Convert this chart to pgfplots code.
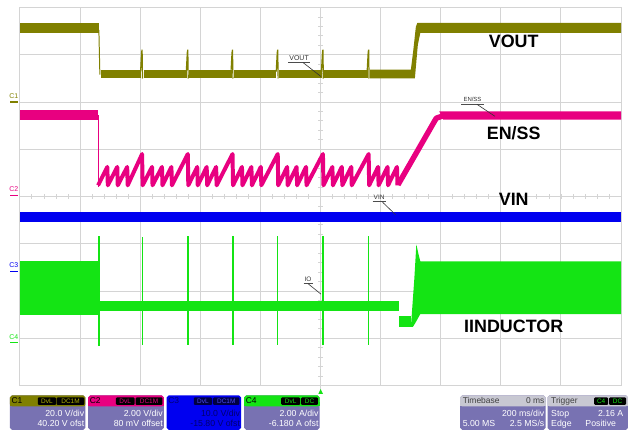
\documentclass[border=0pt]{standalone}
\usepackage{fontspec}
\setmainfont{Liberation Sans}
\usepackage{pgfplots}
\pgfplotsset{compat=1.18}
\definecolor{cvout}{RGB}{128,128,0}
\definecolor{cen}{RGB}{232,0,128}
\definecolor{cvin}{RGB}{0,0,240}
\definecolor{cil}{RGB}{20,228,20}
\definecolor{boxbg}{RGB}{120,114,178}
\definecolor{gridc}{RGB}{212,212,212}
\definecolor{navy}{RGB}{0,0,110}
\definecolor{hdrgray}{RGB}{200,200,210}
\begin{document}
\begin{tikzpicture}
\begin{axis}[
  scale only axis, width=605pt, height=380.5pt,
  xmin=20, xmax=625, ymin=7.5, ymax=388, y dir=reverse,
  clip=false,
  xtick={20,80.5,141,201.5,262,322.5,383,443.5,504,564.5,625},
  ytick={7.5,55.06,102.63,150.19,197.75,245.31,292.88,340.44,388},
  xticklabels={}, yticklabels={}, major tick length=0pt,
  grid=major, grid style={gridc, line width=0.9pt},
  axis line style={gridc, line width=0.9pt},
]
\path (0,0) rectangle (628,433);
% center cross minor ticks
\pgfplotsinvokeforeach{1,...,49}{
  \pgfmathsetmacro\tx{20+#1*12.1}
  \edef\tmp{\noexpand\draw[gridc, line width=0.8pt] (axis cs:\tx,195.5) -- (axis cs:\tx,200);}
  \tmp
}
\pgfplotsinvokeforeach{1,...,39}{
  \pgfmathsetmacro\ty{7.5+#1*9.5125}
  \edef\tmp{\noexpand\draw[gridc, line width=0.8pt] (axis cs:320.2,\ty) -- (axis cs:324.8,\ty);}
  \tmp
}

% ---------------- VOUT ----------------
\addplot[fill=cvout, draw=none] coordinates {(20,23) (99.5,23) (99.5,33) (20,33)} -- cycle;
\addplot[cvout, line width=1pt] coordinates {(99.5,30) (100.5,75)};
\addplot[fill=cvout, draw=none] coordinates {(101.5,70) (142,70) (142,79) (101.5,79)} -- cycle;
\addplot[fill=cvout, draw=none] coordinates {(144.5,70) (188,70) (188,79) (144.5,79)} -- cycle;
\addplot[fill=cvout, draw=none] coordinates {(190.5,70) (233,70) (233,79) (190.5,79)} -- cycle;
\addplot[fill=cvout, draw=none] coordinates {(235.5,70) (278,70) (278,79) (235.5,79)} -- cycle;
\addplot[fill=cvout, draw=none] coordinates {(281,70) (324,70) (324,79) (281,79)} -- cycle;
\addplot[fill=cvout, draw=none] coordinates {(326.5,70) (370,70) (370,79) (326.5,79)} -- cycle;
\addplot[fill=cvout, draw=none] coordinates {(372.5,70) (413.5,70) (416,50) (418.5,27) (420,23) (625,23) (625,33) (423,33) (420.5,45) (417.5,79) (372.5,79)} -- cycle;
\addplot[cvout, line width=1.2pt] coordinates {(141.5,72) (142.5,53) (143,50) (143.4,79)};
\addplot[cvout, line width=1.2pt] coordinates {(187.5,72) (188.5,53) (189,50) (189.4,79)};
\addplot[cvout, line width=1.2pt] coordinates {(232.5,72) (233.5,53) (234,50) (234.4,79)};
\addplot[cvout, line width=1.2pt] coordinates {(278,72) (279,53) (279.5,50) (279.9,79)};
\addplot[cvout, line width=1.2pt] coordinates {(323.5,72) (324.5,53) (325,50) (325.4,79)};
\addplot[cvout, line width=1.2pt] coordinates {(369.5,72) (370.5,53) (371,50) (371.4,79)};

% ---------------- EN/SS ----------------
\addplot[fill=cen, draw=none] coordinates {(20,111) (98.5,111) (98.5,121) (20,121)} -- cycle;
\addplot[cen, line width=1pt] coordinates {(98.7,116) (98.7,188)};
\addplot[cen, line width=4pt, line join=round] coordinates {
 (98.7,186.5) (108,168) (108.5,186.5) (118,168) (118.5,186.5) (128,168) (128.5,186.5) (143,155) (143.5,186.5)
 (153,168) (153.5,186.5) (163,168) (163.5,186.5) (172.5,168) (173,186.5) (189,155) (189.5,186.5)
 (198.5,168) (199,186.5) (208,168) (208.5,186.5) (217.5,168) (218,186.5) (234,155) (234.5,186.5)
 (243.5,168) (244,186.5) (253,168) (253.5,186.5) (262.5,168) (263,186.5) (279.5,155) (280,186.5)
 (289,168) (289.5,186.5) (298.5,168) (299,186.5) (308,168) (308.5,186.5) (325,155) (325.5,186.5)
 (334.5,168) (335,186.5) (344,168) (344.5,186.5) (353.5,168) (354,186.5) (371,155) (371.5,186.5)
 (380.5,168) (381,186.5) (390,168) (390.5,186.5) (399.5,168) (400,186.5)};
\addplot[cen, line width=5.5pt, line join=round] coordinates {(400.5,186) (439,119) (446,116.5)};
\addplot[fill=cen, draw=none] coordinates {(442,112) (625,112) (625,120.5) (446,120.5)} -- cycle;

% ---------------- VIN ----------------
\addplot[fill=cvin, draw=none] coordinates {(20,213) (625,213) (625,223) (20,223)} -- cycle;

% ---------------- IINDUCTOR ----------------
\addplot[fill=cil, draw=none] coordinates {(20,263) (98.5,263) (98.5,317) (20,317)} -- cycle;
\addplot[fill=cil, draw=none] coordinates {(100,302.5) (401.5,302.5) (401.5,313) (100,313)} -- cycle;
\addplot[fill=cil, draw=none] coordinates {(401.5,318) (414,318) (414,329) (401.5,329)} -- cycle;
\addplot[fill=cil, draw=none] coordinates {(413.5,329) (417,280) (419,246) (421,255) (423,263) (625,263) (625,316) (423,316) (418,325) (415.5,329)} -- cycle;
\addplot[cil, line width=1.8pt] coordinates {(99.5,238) (99.5,348)};
\addplot[cil, line width=1.4pt] coordinates {(143.3,239) (143.3,347)};
\addplot[cil, line width=1.4pt] coordinates {(189,238) (189,347)};
\addplot[cil, line width=1.4pt] coordinates {(234.3,238) (234.3,347)};
\addplot[cil, line width=1.4pt] coordinates {(279.3,238) (279.3,347)};
\addplot[cil, line width=1.4pt] coordinates {(325,238) (325,347)};
\addplot[cil, line width=1.4pt] coordinates {(371,238) (371,347)};

% ---------------- labels ----------------
\node[font=\bfseries\fontsize{18}{18}\selectfont] at (517,42) {VOUT};
\node[font=\bfseries\fontsize{18}{18}\selectfont] at (517,134) {EN/SS};
\node[font=\bfseries\fontsize{18}{18}\selectfont] at (517,201) {VIN};
\node[font=\bfseries\fontsize{18}{18}\selectfont] at (517,328) {IINDUCTOR};

\node[font=\fontsize{7}{7}\selectfont, text=black!80, inner sep=0pt] at (301,58.5) {VOUT};
\draw[black!70, line width=0.6pt] (290,62.5) -- (312,62.5);
\draw[black!80, line width=0.6pt] (305,63) -- (323,77);
\node[font=\fontsize{6}{6}\selectfont, text=black!80, inner sep=0pt] at (475.5,100.5) {EN/SS};
\draw[black!70, line width=0.6pt] (464,104.5) -- (487,104.5);
\draw[black!80, line width=0.6pt] (480,105) -- (498,117);
\node[font=\fontsize{6.5}{6.5}\selectfont, text=black!80, inner sep=0pt] at (381.5,199) {VIN};
\draw[black!70, line width=0.6pt] (375,203) -- (388,203);
\draw[black!80, line width=0.6pt] (385,203.5) -- (398,216);
\node[font=\fontsize{6.5}{6.5}\selectfont, text=black!80, inner sep=0pt] at (310,281) {IO};
\draw[black!70, line width=0.6pt] (305.5,285) -- (314.5,285);
\draw[black!80, line width=0.6pt] (310,285.5) -- (323,296);

% channel markers
\node[font=\fontsize{7}{7}\selectfont, text=cvout, inner sep=0pt] at (14,97) {C1};
\draw[cvout, line width=1.4pt] (10.5,102.6) -- (18.5,102.6);
\node[font=\fontsize{7}{7}\selectfont, text=cen, inner sep=0pt] at (14,190) {C2};
\draw[cen, line width=1.4pt] (10.5,196.5) -- (18.5,196.5);
\node[font=\fontsize{7}{7}\selectfont, text=cvin, inner sep=0pt] at (14,267) {C3};
\draw[cvin, line width=1.4pt] (10.5,273) -- (18.5,273);
\node[font=\fontsize{7}{7}\selectfont, text=cil, inner sep=0pt] at (14,339) {C4};
\draw[cil, line width=1.4pt] (10.5,344.5) -- (18.5,344.5);

% trigger marker
\draw[gridc, line width=0.8pt] (322.7,388) -- (322.7,392);
\fill[cil] (320.3,396.5) -- (325.1,396.5) -- (322.7,391.5) -- cycle;

% ---------------- info boxes ----------------
% C1
\fill[boxbg, rounded corners=2pt] (10,398) rectangle (86,432.5);
\fill[cvout, rounded corners=2pt] (10,398) rectangle (86,409);
\fill[cvout] (10,405) rectangle (86,409);
\node[anchor=west, font=\fontsize{8.5}{8.5}\selectfont, text=black, inner sep=0pt] at (11.5,403.5) {C1};
\fill[black, rounded corners=1pt] (38,400) rectangle (56.5,407.5);
\fill[black, rounded corners=1pt] (57,400) rectangle (85,407.5);
\node[font=\fontsize{6.5}{6.5}\selectfont, text=cvout!60!yellow, inner sep=0pt] at (47.2,403.8) {DvL};
\node[font=\fontsize{6.5}{6.5}\selectfont, text=cvout!60!yellow, inner sep=0pt] at (71,403.8) {DC1M};
\node[anchor=east, font=\fontsize{8.8}{8.8}\selectfont, text=white, inner sep=0pt] at (85,416.5) {20.0 V/div};
\node[anchor=east, font=\fontsize{8.8}{8.8}\selectfont, text=white, inner sep=0pt] at (85,426.5) {40.20 V ofst};
% C2
\fill[boxbg, rounded corners=2pt] (88.7,398) rectangle (165,432.5);
\fill[cen, rounded corners=2pt] (88.7,398) rectangle (165,409);
\fill[cen] (88.7,405) rectangle (165,409);
\node[anchor=west, font=\fontsize{8.5}{8.5}\selectfont, text=black, inner sep=0pt] at (90.2,403.5) {C2};
\fill[black, rounded corners=1pt] (116.7,400) rectangle (135.5,407.5);
\fill[black, rounded corners=1pt] (136.5,400) rectangle (163.5,407.5);
\node[font=\fontsize{6.5}{6.5}\selectfont, text=cen, inner sep=0pt] at (126,403.8) {DvL};
\node[font=\fontsize{6.5}{6.5}\selectfont, text=cen, inner sep=0pt] at (150,403.8) {DC1M};
\node[anchor=east, font=\fontsize{8.8}{8.8}\selectfont, text=white, inner sep=0pt] at (164,416.5) {2.00 V/div};
\node[anchor=east, font=\fontsize{8.8}{8.8}\selectfont, text=white, inner sep=0pt] at (164,426.5) {80 mV offset};
% C3
\fill[cvin, rounded corners=2pt] (167.7,398) rectangle (242.7,432.5);
\node[anchor=west, font=\fontsize{8.5}{8.5}\selectfont, text=navy, inner sep=0pt] at (169.2,403.5) {C3};
\fill[navy!60!black, rounded corners=1pt] (195,400) rectangle (213.5,407.5);
\fill[navy!60!black, rounded corners=1pt] (214.5,400) rectangle (241,407.5);
\node[font=\fontsize{6.5}{6.5}\selectfont, text=cvin!70!white, inner sep=0pt] at (204.2,403.8) {DvL};
\node[font=\fontsize{6.5}{6.5}\selectfont, text=cvin!70!white, inner sep=0pt] at (227.7,403.8) {DC1M};
\node[anchor=east, font=\fontsize{8.8}{8.8}\selectfont, text=navy, inner sep=0pt] at (241.7,416.5) {10.0 V/div};
\node[anchor=east, font=\fontsize{8.8}{8.8}\selectfont, text=navy, inner sep=0pt] at (241.7,426.5) {-15.80 V ofst};
% C4
\fill[boxbg, rounded corners=2pt] (245.7,398) rectangle (321.7,432.5);
\fill[cil, rounded corners=2pt] (245.7,398) rectangle (321.7,409);
\fill[cil] (245.7,405) rectangle (321.7,409);
\node[anchor=west, font=\fontsize{8.5}{8.5}\selectfont, text=black, inner sep=0pt] at (247.2,403.5) {C4};
\fill[black, rounded corners=1pt] (283,400) rectangle (302,407.5);
\fill[black, rounded corners=1pt] (303,400) rectangle (320,407.5);
\node[font=\fontsize{6.5}{6.5}\selectfont, text=cil, inner sep=0pt] at (292.5,403.8) {DvL};
\node[font=\fontsize{6.5}{6.5}\selectfont, text=cil, inner sep=0pt] at (311.5,403.8) {DC};
\node[anchor=east, font=\fontsize{8.8}{8.8}\selectfont, text=white, inner sep=0pt] at (320.7,416.5) {2.00 A/div};
\node[anchor=east, font=\fontsize{8.8}{8.8}\selectfont, text=white, inner sep=0pt] at (320.7,426.5) {-6.180 A ofst};
% Timebase
\fill[boxbg, rounded corners=2pt] (463,398) rectangle (549,432.5);
\fill[hdrgray, rounded corners=2pt] (463,398) rectangle (549,409);
\fill[hdrgray] (463,405) rectangle (549,409);
\node[anchor=west, font=\fontsize{8.5}{8.5}\selectfont, text=black!75, inner sep=0pt] at (465.5,403.5) {Timebase};
\node[anchor=east, font=\fontsize{8.5}{8.5}\selectfont, text=black!75, inner sep=0pt] at (548,403.5) {0 ms};
\node[anchor=east, font=\fontsize{8.8}{8.8}\selectfont, text=white, inner sep=0pt] at (548,416.5) {200 ms/div};
\node[anchor=west, font=\fontsize{8.8}{8.8}\selectfont, text=white, inner sep=0pt] at (465.5,426.5) {5.00 MS};
\node[anchor=east, font=\fontsize{8.8}{8.8}\selectfont, text=white, inner sep=0pt] at (548,426.5) {2.5 MS/s};
% Trigger
\fill[boxbg, rounded corners=2pt] (551,398) rectangle (632,432.5);
\fill[hdrgray, rounded corners=2pt] (551,398) rectangle (632,409);
\fill[hdrgray] (551,405) rectangle (632,409);
\node[anchor=west, font=\fontsize{8.5}{8.5}\selectfont, text=black!75, inner sep=0pt] at (554.5,403.5) {Trigger};
\fill[black, rounded corners=1pt] (598,400) rectangle (612,407.5);
\fill[black, rounded corners=1pt] (613,400) rectangle (630,407.5);
\node[font=\fontsize{6.5}{6.5}\selectfont, text=cil, inner sep=0pt] at (605,403.8) {C4};
\node[font=\fontsize{6.5}{6.5}\selectfont, text=cil, inner sep=0pt] at (621.5,403.8) {DC};
\node[anchor=west, font=\fontsize{8.8}{8.8}\selectfont, text=white, inner sep=0pt] at (554.5,416.5) {Stop};
\node[anchor=east, font=\fontsize{8.8}{8.8}\selectfont, text=white, inner sep=0pt] at (627.5,416.5) {2.16 A};
\node[anchor=west, font=\fontsize{8.8}{8.8}\selectfont, text=white, inner sep=0pt] at (554.5,426.5) {Edge};
\node[anchor=west, font=\fontsize{8.8}{8.8}\selectfont, text=white, inner sep=0pt] at (589,426.5) {Positive};
\end{axis}
\end{tikzpicture}
\end{document}
